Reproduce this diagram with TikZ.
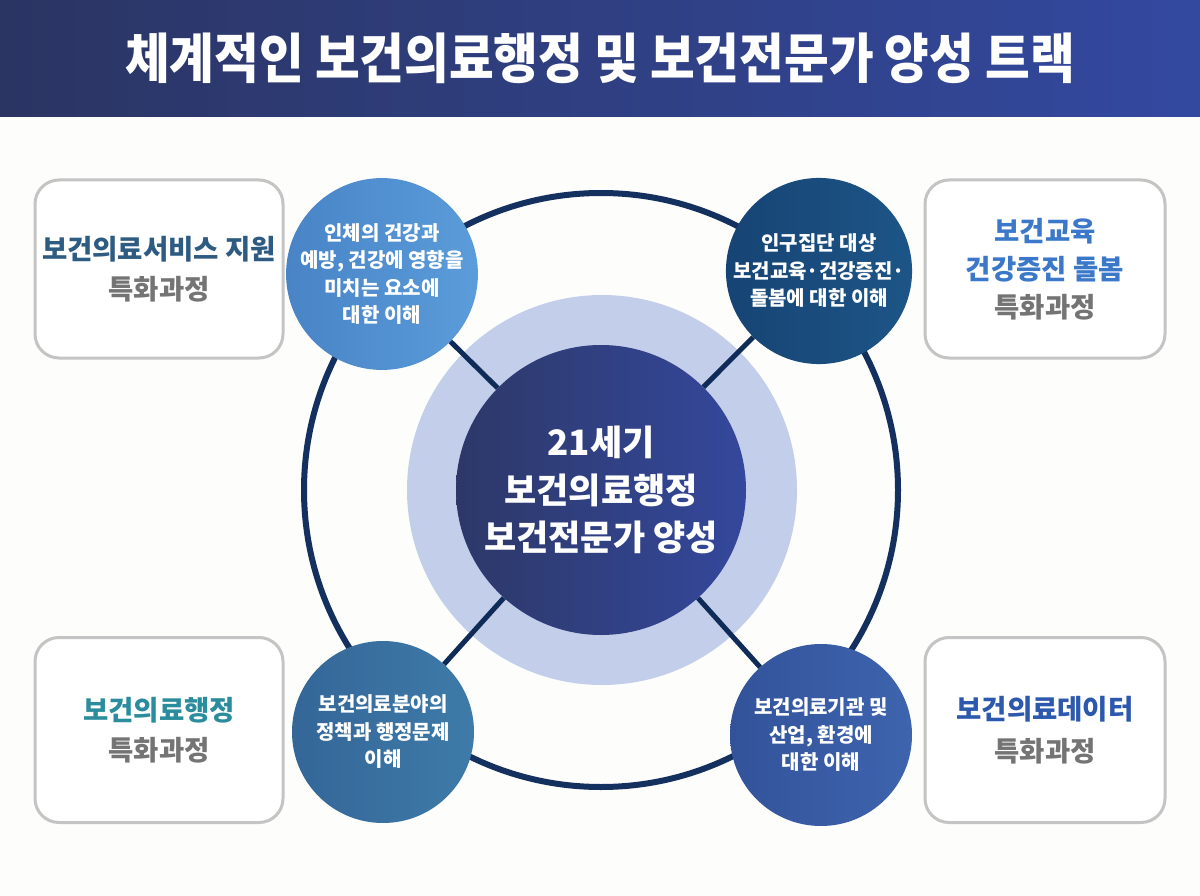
\documentclass[tikz,border=0pt]{standalone}
\usepackage{fontspec}
\usepackage{graphicx}
\setmainfont{Noto Sans CJK KR}
\definecolor{bgc}{HTML}{FDFDFB}
\definecolor{barL}{HTML}{2B3563}
\definecolor{barR}{HTML}{3349A0}
\definecolor{ringc}{HTML}{13305E}
\definecolor{connc}{HTML}{0F2B58}
\definecolor{haloc}{HTML}{C2CEEA}
\definecolor{coreL}{HTML}{2D3868}
\definecolor{coreR}{HTML}{34489C}
\definecolor{tlL}{HTML}{4884C6}
\definecolor{tlR}{HTML}{5B9CDA}
\definecolor{trL}{HTML}{164474}
\definecolor{trR}{HTML}{1D5587}
\definecolor{blL}{HTML}{346698}
\definecolor{blR}{HTML}{3E7BA9}
\definecolor{brL}{HTML}{32539A}
\definecolor{brR}{HTML}{3E64AE}
\definecolor{boxc}{HTML}{C4C4C4}
\definecolor{grayt}{HTML}{747474}
\definecolor{t1}{HTML}{2E5B82}
\definecolor{t2}{HTML}{3B78C9}
\definecolor{t3}{HTML}{2A8C9C}
\definecolor{t4}{HTML}{2C58AD}
\begin{document}
\begin{tikzpicture}[x=1pt,y=-1pt,
  boxst/.style={draw=boxc, line width=3pt, rounded corners=24pt, fill=white,
    align=center, inner sep=0pt, font=\bfseries\fontsize{27.5}{40}\selectfont},
  smallc/.style={circle, inner sep=0pt, minimum size=182pt, align=center,
    text=white, font=\bfseries\fontsize{20}{27.5}\selectfont},
  conn/.style={draw=connc, line width=5pt},
  titlest/.style={text=white, font=\bfseries\fontsize{54}{60}\selectfont, inner sep=0pt}]
\fill[bgc] (0,0) rectangle (1200,896);
\useasboundingbox (0,0) rectangle (1200,896);
\shade[left color=barL, right color=barR] (0,0) rectangle (1200,117);
\node[titlest] (title) at (600,58) {\scalebox{0.90}[1]{체계적인 보건의료행정 및 보건전문가 양성 트랙}};
% ring
\node[circle, draw=ringc, line width=6pt, minimum size=594pt, inner sep=0pt] (ring) at (601,490) {};
% halo and core
\node[circle, fill=haloc, minimum size=390pt, inner sep=0pt] (halo) at (602,490) {};
\node[circle, left color=coreL, right color=coreR, minimum size=290pt, inner sep=0pt,
  align=center, text=white, font=\bfseries\fontsize{35}{47.5}\selectfont] (core) at (601,490)
  {21세기\\보건의료행정\\보건전문가 양성};
% small circles
\node[smallc, left color=tlL, right color=tlR] (c1) at (382,274)
  {인체의 건강과\\예방, 건강에 영향을\\미치는 요소에\\대한 이해};
\node[smallc, left color=trL, right color=trR] (c2) at (819,271)
  {인구집단 대상\\보건교육·건강증진·\\돌봄에 대한 이해};
\node[smallc, left color=blL, right color=blR] (c3) at (383,732)
  {보건의료분야의\\정책과 행정문제\\이해};
\node[smallc, left color=brL, right color=brR] (c4) at (821,735)
  {보건의료기관 및\\산업, 환경에\\대한 이해};
% connectors
\draw[conn] (c1) -- (core);
\draw[conn] (c2) -- (core);
\draw[conn] (c3) -- (core);
\draw[conn] (c4) -- (core);
% boxes
\node[boxst, minimum width=248pt, minimum height=178pt] (b1) at (159,269)
  {\textcolor{t1}{보건의료서비스 지원}\\\textcolor{grayt}{특화과정}};
\node[boxst, minimum width=240pt, minimum height=178pt, font=\bfseries\fontsize{27.5}{38}\selectfont] (b2) at (1045,269)
  {\textcolor{t2}{보건교육}\\\textcolor{t2}{건강증진 돌봄}\\\textcolor{grayt}{특화과정}};
\node[boxst, minimum width=248pt, minimum height=185pt] (b3) at (159,730)
  {\textcolor{t3}{보건의료행정}\\\textcolor{grayt}{특화과정}};
\node[boxst, minimum width=240pt, minimum height=185pt, font=\bfseries\fontsize{27.5}{42}\selectfont] (b4) at (1045,730)
  {\textcolor{t4}{보건의료데이터}\\\textcolor{grayt}{특화과정}};
\end{tikzpicture}
\end{document}
